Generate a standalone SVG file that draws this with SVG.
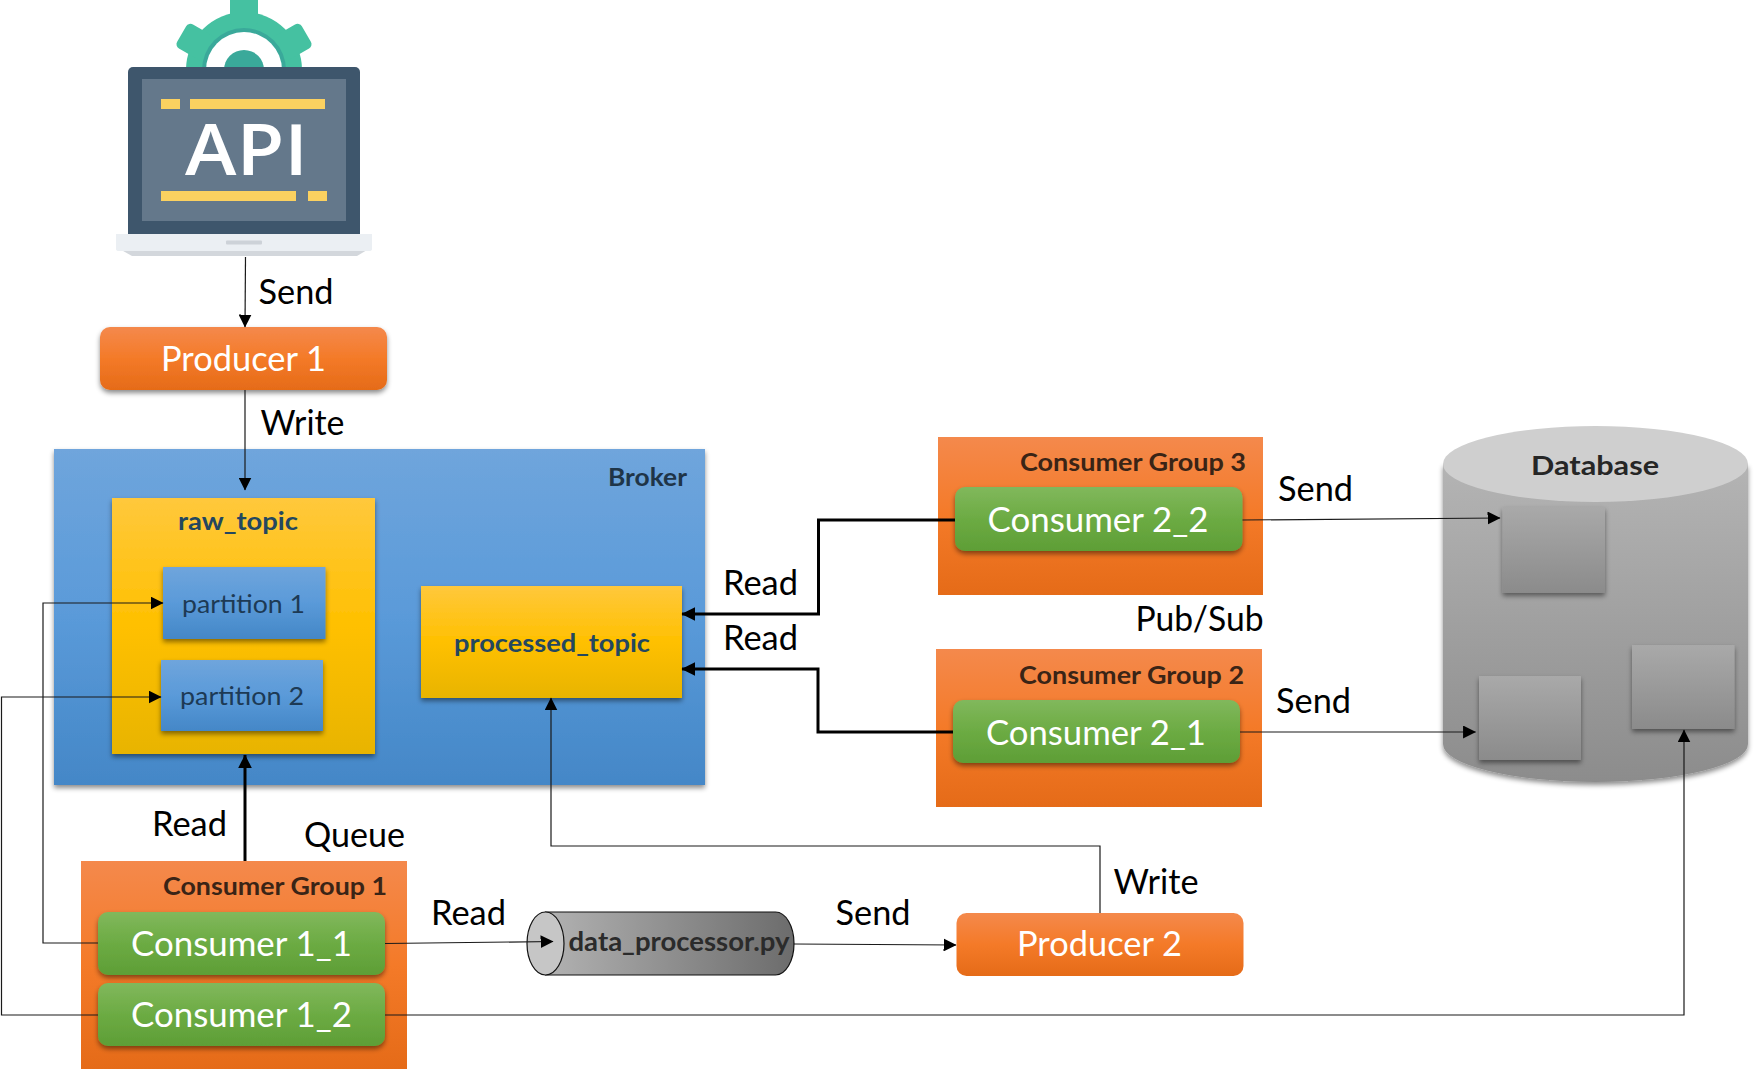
<svg xmlns="http://www.w3.org/2000/svg" width="1758" height="1073" viewBox="0 0 1758 1073">
<style>
text{font-family:"Lato","Carlito","Noto Sans",sans-serif}
.lb{font-size:34px;fill:#000}
.w{font-size:34px;fill:#fff}
.b{font-size:24px;font-weight:700;fill:#3a2416}
.t{font-size:24px;font-weight:700;fill:#24475f}
.p{font-size:25px;fill:#1d3a55}
.thin{fill:none;stroke:#1a1a1a;stroke-width:1.2}
.thick{fill:none;stroke:#000;stroke-width:3}
</style>
<defs>
<linearGradient id="go" x1="0" y1="0" x2="0" y2="1"><stop offset="0" stop-color="#f4894c"/><stop offset=".5" stop-color="#f47a28"/><stop offset="1" stop-color="#e56b18"/></linearGradient>
<linearGradient id="gg" x1="0" y1="0" x2="0" y2="1"><stop offset="0" stop-color="#81b85c"/><stop offset=".5" stop-color="#6cab43"/><stop offset="1" stop-color="#5e9e36"/></linearGradient>
<linearGradient id="gb" x1="0" y1="0" x2="0" y2="1"><stop offset="0" stop-color="#6fa5dc"/><stop offset=".5" stop-color="#5a9ad9"/><stop offset="1" stop-color="#4487c7"/></linearGradient>
<linearGradient id="gy" x1="0" y1="0" x2="0" y2="1"><stop offset="0" stop-color="#ffc83c"/><stop offset=".5" stop-color="#ffc000"/><stop offset="1" stop-color="#e8b400"/></linearGradient>
<linearGradient id="gd" x1="0" y1="0" x2="0" y2="1"><stop offset="0" stop-color="#b4b4b4"/><stop offset="1" stop-color="#8c8c8c"/></linearGradient>
<linearGradient id="gs" x1="0" y1="0" x2="0" y2="1"><stop offset="0" stop-color="#a9a9a9"/><stop offset="1" stop-color="#8b8b8b"/></linearGradient>
<linearGradient id="gc" x1="0" y1="0" x2="1" y2="0"><stop offset="0" stop-color="#b2b2b2"/><stop offset="1" stop-color="#6c6c6c"/></linearGradient>
<filter id="sh" x="-10%" y="-10%" width="120%" height="125%"><feDropShadow dx="0" dy="3" stdDeviation="2.5" flood-color="#000" flood-opacity=".45"/></filter>
<marker id="ah" viewBox="0 0 12 12" refX="11.5" refY="6" markerWidth="13" markerHeight="13" markerUnits="userSpaceOnUse" orient="auto"><path d="M0 0L12 6L0 12Z" fill="#000"/></marker>
<marker id="ahb" viewBox="0 0 12 12" refX="11.5" refY="6" markerWidth="14" markerHeight="14" markerUnits="userSpaceOnUse" orient="auto"><path d="M0 0L12 6L0 12Z" fill="#000"/></marker>
</defs>
<rect width="1758" height="1073" fill="#fff"/>

<g id="api">
<g fill="#45c1a1">
<circle cx="244" cy="70" r="58"/>
<rect x="230" y="-6" width="28" height="32" rx="5"/>
<rect x="230" y="-2" width="28" height="32" rx="5" transform="rotate(60 244 70)"/>
<rect x="230" y="-2" width="28" height="32" rx="5" transform="rotate(-60 244 70)"/>
</g>
<circle cx="244" cy="70" r="42" fill="#3aa99a"/>
<circle cx="244" cy="70" r="38" fill="#fff"/>
<circle cx="244" cy="70" r="20" fill="#3aa99a"/>
<rect x="128" y="67" width="232" height="170" rx="5" fill="#3e566c"/>
<rect x="128" y="120" width="232" height="114" fill="#3e566c"/>
<rect x="142" y="79" width="204" height="142" fill="#64788b"/>
<g fill="#fbd160">
<rect x="161" y="99" width="19" height="10"/><rect x="190" y="99" width="135" height="10"/>
<rect x="161" y="191" width="135" height="10"/><rect x="308" y="191" width="19" height="10"/>
</g>
<text x="185" y="175" font-size="71" fill="#fff" style="font-family:'Open Sans',sans-serif;font-weight:600" textLength="123" lengthAdjust="spacingAndGlyphs">API</text>
<path d="M116 234H372V247L357 256H132L116 247Z" fill="#d3d7dc"/>
<path d="M116 234H372V249Q372 251 369 251H119Q116 251 116 249Z" fill="#ebeff3"/>
<rect x="226" y="240.500" width="36" height="4" rx="1" fill="#cdd2d8"/>
</g>

<g id="broker">
<rect x="54" y="449" width="651" height="336" fill="url(#gb)" filter="url(#sh)"/>
<text class="t" x="608" y="486" textLength="79" lengthAdjust="spacingAndGlyphs" style="fill:#1f3548">Broker</text>
</g>
<g id="raw_topic">
<rect x="112" y="498" width="263" height="256" fill="url(#gy)" filter="url(#sh)"/>
<text class="t" x="178" y="530" textLength="120" lengthAdjust="spacingAndGlyphs">raw_topic</text>
</g>
<g id="partition1">
<rect x="163" y="567" width="162.500" height="72" fill="url(#gb)" filter="url(#sh)"/>
<text class="p" x="182" y="613" textLength="123" lengthAdjust="spacingAndGlyphs">partition 1</text>
</g>
<g id="partition2">
<rect x="161" y="660" width="162" height="71" fill="url(#gb)" filter="url(#sh)"/>
<text class="p" x="180" y="705" textLength="124" lengthAdjust="spacingAndGlyphs">partition 2</text>
</g>
<g id="processed_topic">
<rect x="421" y="586" width="261" height="112" fill="url(#gy)" filter="url(#sh)"/>
<text class="t" x="454" y="652" textLength="196" lengthAdjust="spacingAndGlyphs">processed_topic</text>
</g>

<g id="producer1">
<rect x="100" y="327" width="287" height="63" rx="10" fill="url(#go)" filter="url(#sh)"/>
<text class="w" x="161" y="371" textLength="165" lengthAdjust="spacingAndGlyphs">Producer 1</text>
</g>
<g id="producer2">
<rect x="956.500" y="913" width="287" height="63" rx="10" fill="url(#go)"/>
<text class="w" x="1017" y="956" textLength="165" lengthAdjust="spacingAndGlyphs">Producer 2</text>
</g>

<g id="group1">
<rect x="81" y="861" width="326" height="208" fill="url(#go)"/>
<text class="b" x="163" y="895" textLength="224" lengthAdjust="spacingAndGlyphs">Consumer Group 1</text>
</g>
<g id="consumer1_1">
<rect x="98" y="912" width="287" height="63" rx="10" fill="url(#gg)" filter="url(#sh)"/>
<text class="w" x="131" y="956" textLength="221" lengthAdjust="spacingAndGlyphs">Consumer 1_1</text>
</g>
<g id="consumer1_2">
<rect x="98" y="983" width="287" height="63" rx="10" fill="url(#gg)" filter="url(#sh)"/>
<text class="w" x="131" y="1027" textLength="221" lengthAdjust="spacingAndGlyphs">Consumer 1_2</text>
</g>
<g id="group3">
<rect x="938" y="437" width="325" height="158" fill="url(#go)"/>
<text class="b" x="1020" y="471" textLength="226" lengthAdjust="spacingAndGlyphs">Consumer Group 3</text>
</g>
<g id="consumer2_2">
<rect x="955" y="487" width="287.500" height="64" rx="10" fill="url(#gg)" filter="url(#sh)"/>
<text class="w" x="987.500" y="532" textLength="221" lengthAdjust="spacingAndGlyphs">Consumer 2_2</text>
</g>
<g id="group2">
<rect x="936" y="649" width="326" height="158" fill="url(#go)"/>
<text class="b" x="1019" y="684" textLength="225" lengthAdjust="spacingAndGlyphs">Consumer Group 2</text>
</g>
<g id="consumer2_1">
<rect x="953" y="700" width="287" height="63" rx="10" fill="url(#gg)" filter="url(#sh)"/>
<text class="w" x="986" y="745" textLength="220" lengthAdjust="spacingAndGlyphs">Consumer 2_1</text>
</g>

<g id="data_processor">
<path d="M545.500 912H775.500A18.500 31.500 0 0 1 775.500 975H545.500Z" fill="url(#gc)" stroke="#111" stroke-width="1.200"/>
<ellipse cx="545.500" cy="943.500" rx="18.500" ry="31.500" fill="#c6c6c6" stroke="#111" stroke-width="1.200"/>
<text class="t" x="568.500" y="951" textLength="221" lengthAdjust="spacingAndGlyphs" style="fill:#2b2b2b;font-size:26px">data_processor.py</text>
</g>

<g id="database">
<path d="M1443 464V744A152.500 38 0 0 0 1748 744V464Z" fill="url(#gd)" filter="url(#sh)"/>
<ellipse cx="1595.500" cy="464" rx="152.500" ry="38" fill="#cfcfcf"/>
<text class="t" x="1531" y="475" textLength="128" lengthAdjust="spacingAndGlyphs" style="fill:#262626;font-size:27px">Database</text>
<rect x="1502.500" y="507" width="102.500" height="86" fill="url(#gs)" filter="url(#sh)"/>
<rect x="1479" y="676" width="102" height="84" fill="url(#gs)" filter="url(#sh)"/>
<rect x="1632" y="645" width="102.500" height="84" fill="url(#gs)" filter="url(#sh)"/>
</g>

<g id="connectors">
<path class="thin" d="M245.500 257L245 327" marker-end="url(#ah)"/>
<path class="thin" d="M245 390V490" marker-end="url(#ah)"/>
<path class="thin" d="M98 943H43V603H163" marker-end="url(#ah)"/>
<path class="thin" d="M98 1015H1.500V697H161" marker-end="url(#ah)"/>
<path class="thick" d="M245 861V755" marker-end="url(#ahb)"/>
<path class="thin" d="M385 943.500L553 941.500" marker-end="url(#ah)"/>
<path class="thin" d="M794 944L956 945" marker-end="url(#ah)"/>
<path class="thin" d="M1100 913V846H551V698" marker-end="url(#ah)"/>
<path class="thin" d="M385 1015H1684V730" marker-end="url(#ah)"/>
<path class="thick" d="M955 520H818.500V614H682" marker-end="url(#ahb)"/>
<path class="thick" d="M953 732H818V669H682" marker-end="url(#ahb)"/>
<path class="thin" d="M1242.500 520L1500 518" marker-end="url(#ah)"/>
<path class="thin" d="M1240 732H1475.500" marker-end="url(#ah)"/>
</g>

<g id="labels">
<text class="lb" x="258.500" y="304" textLength="75" lengthAdjust="spacingAndGlyphs">Send</text>
<text class="lb" x="260.500" y="435" textLength="84" lengthAdjust="spacingAndGlyphs">Write</text>
<text class="lb" x="152" y="836" textLength="75" lengthAdjust="spacingAndGlyphs">Read</text>
<text class="lb" x="304" y="847" textLength="101" lengthAdjust="spacingAndGlyphs">Queue</text>
<text class="lb" x="431" y="925" textLength="75" lengthAdjust="spacingAndGlyphs">Read</text>
<text class="lb" x="835.500" y="925" textLength="75" lengthAdjust="spacingAndGlyphs">Send</text>
<text class="lb" x="1113.500" y="894" textLength="85" lengthAdjust="spacingAndGlyphs">Write</text>
<text class="lb" x="723" y="595" textLength="75" lengthAdjust="spacingAndGlyphs">Read</text>
<text class="lb" x="723" y="650" textLength="75" lengthAdjust="spacingAndGlyphs">Read</text>
<text class="lb" x="1278" y="501" textLength="75" lengthAdjust="spacingAndGlyphs">Send</text>
<text class="lb" x="1276" y="713" textLength="75" lengthAdjust="spacingAndGlyphs">Send</text>
<text class="lb" x="1135.500" y="631" textLength="128" lengthAdjust="spacingAndGlyphs">Pub/Sub</text>
</g>
</svg>
